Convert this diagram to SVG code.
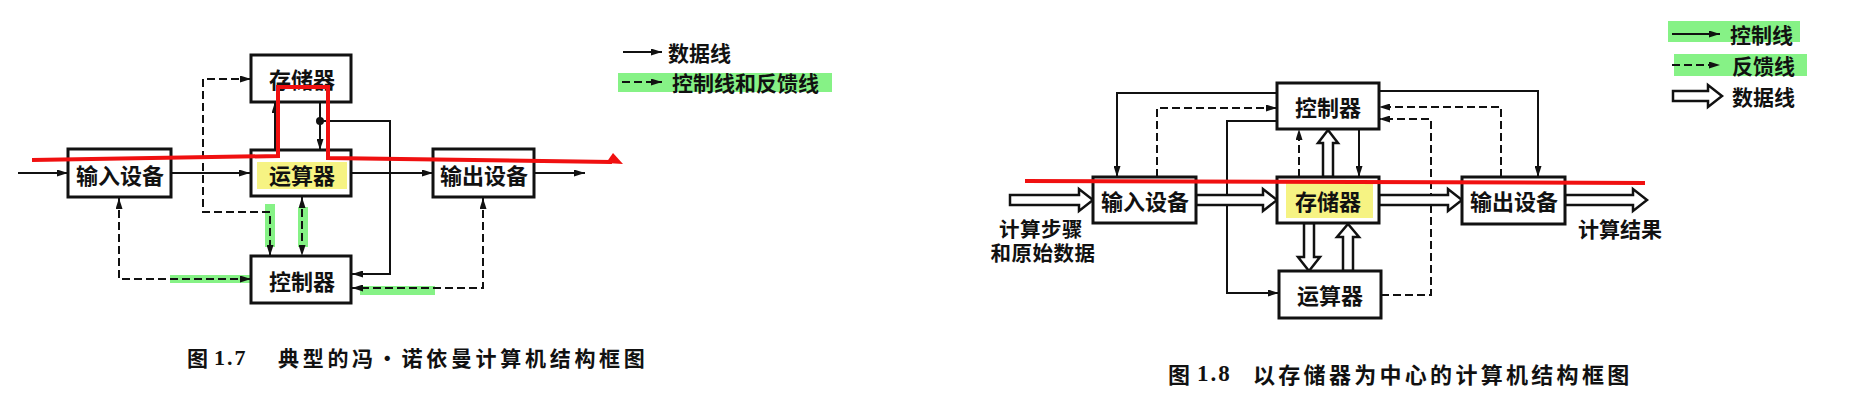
<svg xmlns="http://www.w3.org/2000/svg" width="1851" height="418" viewBox="0 0 1851 418">
<style>
.box{fill:#fff;stroke:#111;stroke-width:3}
.lbl{font-family:"Noto Sans CJK SC","Noto Sans CJK TC",sans-serif;font-weight:700;font-size:22px;fill:#111;text-anchor:middle;dominant-baseline:central}
.leg{font-family:"Noto Sans CJK SC",sans-serif;font-weight:700;font-size:21px;fill:#111;dominant-baseline:central}
.cap{font-family:"Noto Sans CJK SC",sans-serif;font-weight:700;fill:#111;dominant-baseline:central}
.num{font-family:"Liberation Serif",serif;font-weight:700;fill:#111;dominant-baseline:central}
.solid{fill:none;stroke:#111;stroke-width:2}
.dash{fill:none;stroke:#111;stroke-width:2;stroke-dasharray:8 4}
.hollow{fill:#fff;stroke:#111;stroke-width:2.5;stroke-linejoin:miter}
.hg{fill:#86f286}
.hy{fill:#f6f383}
.red{fill:none;stroke:#f01010;stroke-width:4}
</style>
<defs>
<marker id="ah" viewBox="0 0 11 7" refX="11" refY="3.5" markerWidth="11" markerHeight="7" markerUnits="userSpaceOnUse" orient="auto-start-reverse">
<path d="M0,0 L11,3.5 L0,7 z" fill="#111"/>
</marker>
</defs>
<rect width="1851" height="418" fill="#fff"/>

<!-- highlights -->
<g id="highlights">
<rect class="hg" x="618" y="73" width="214" height="19"/>
<rect class="hg" x="265" y="204" width="10" height="43"/>
<rect class="hg" x="298" y="207" width="10" height="40"/>
<rect class="hg" x="170" y="275" width="80" height="8"/>
<rect class="hg" x="360" y="286" width="75" height="9"/>
<rect class="hg" x="1668" y="21" width="132" height="21"/>
<rect class="hg" x="1674" y="54" width="133" height="22"/>
</g>

<!-- connectors -->
<g id="connectors">
<!-- left diagram -->
<path class="solid" d="M18,173 H68" marker-end="url(#ah)"/>
<path class="solid" d="M171,173 H250" marker-end="url(#ah)"/>
<path class="solid" d="M351,173 H433" marker-end="url(#ah)"/>
<path class="solid" d="M534,173 H585" marker-end="url(#ah)"/>
<path class="solid" d="M275,150 V102" marker-end="url(#ah)"/>
<path class="solid" d="M320,102 V150" marker-end="url(#ah)"/>
<circle cx="320" cy="121" r="4" fill="#111"/>
<path class="solid" d="M320,121 H390 V274 H352" marker-end="url(#ah)"/>
<path class="dash" d="M251,79 H203 V212 H270 V256" marker-start="url(#ah)" marker-end="url(#ah)"/>
<path class="dash" d="M302,197 V256" marker-start="url(#ah)" marker-end="url(#ah)"/>
<path class="dash" d="M119,198 V279 H251" marker-start="url(#ah)" marker-end="url(#ah)"/>
<path class="dash" d="M483,198 V288 H352" marker-start="url(#ah)" marker-end="url(#ah)"/>
<!-- left legend -->
<path class="solid" d="M623,52 H662" marker-end="url(#ah)"/>
<path class="dash" d="M622,82 H662" marker-end="url(#ah)"/>

<!-- right diagram -->
<path class="solid" d="M1277,93 H1117 V177" marker-end="url(#ah)"/>
<path class="dash" d="M1157,177 V108 H1277" marker-end="url(#ah)"/>
<path class="solid" d="M1277,121 H1227 V293 H1279" marker-end="url(#ah)"/>
<path class="dash" d="M1299,177 V129" marker-end="url(#ah)"/>
<path class="solid" d="M1359,129 V177" marker-end="url(#ah)"/>
<path class="solid" d="M1379,91 H1538 V177" marker-end="url(#ah)"/>
<path class="dash" d="M1501,177 V107 H1379" marker-end="url(#ah)"/>
<path class="dash" d="M1381,295 H1431 V119 H1379" marker-end="url(#ah)"/>
<polygon class="hollow" points="1010,195 1079,195 1079,189 1093,200 1079,211 1079,205 1010,205"/>
<polygon class="hollow" points="1196,195 1263,195 1263,189 1277,200 1263,211 1263,205 1196,205"/>
<polygon class="hollow" points="1379,195 1448,195 1448,189 1462,200 1448,211 1448,205 1379,205"/>
<polygon class="hollow" points="1565,195 1633,195 1633,189 1647,200 1633,211 1633,205 1565,205"/>
<polygon class="hollow" points="1323,177 1323,143 1318,143 1328,130 1338,143 1333,143 1333,177"/>
<polygon class="hollow" points="1304,223 1304,257 1298,257 1309,271 1320,257 1314,257 1314,223"/>
<polygon class="hollow" points="1343,271 1343,237 1337,237 1348,224 1359,237 1353,237 1353,271"/>
<!-- right legend -->
<path class="solid" d="M1672,34 H1720" marker-end="url(#ah)"/>
<path class="dash" d="M1672,65 H1720" marker-end="url(#ah)"/>
<polygon class="hollow" points="1673,91 1708,91 1708,85 1722,96 1708,107 1708,101 1673,101"/>
</g>

<!-- left diagram nodes -->
<g id="n1-input">
<rect class="box" x="68" y="149" width="103" height="48"/>
<text class="lbl" x="120" y="174">输入设备</text>
</g>
<g id="n1-memory">
<rect class="box" x="251" y="55" width="100" height="47"/>
<text class="lbl" x="302" y="78">存储器</text>
</g>
<g id="n1-alu">
<rect class="box" x="251" y="150" width="100" height="46"/>
<rect class="hy" x="257" y="162" width="90" height="27"/>
<text class="lbl" x="302" y="174">运算器</text>
</g>
<g id="n1-output">
<rect class="box" x="433" y="149" width="101" height="48"/>
<text class="lbl" x="484" y="174">输出设备</text>
</g>
<g id="n1-control">
<rect class="box" x="251" y="256" width="100" height="47"/>
<text class="lbl" x="302" y="280">控制器</text>
</g>

<!-- right diagram nodes -->
<g id="n2-control">
<rect class="box" x="1277" y="83" width="102" height="46"/>
<text class="lbl" x="1328" y="106">控制器</text>
</g>
<g id="n2-input">
<rect class="box" x="1093" y="177" width="103" height="46"/>
<text class="lbl" x="1145" y="200">输入设备</text>
</g>
<g id="n2-memory">
<rect class="box" x="1277" y="177" width="102" height="46"/>
<rect class="hy" x="1286" y="183" width="87" height="35"/>
<text class="lbl" x="1328" y="200">存储器</text>
</g>
<g id="n2-output">
<rect class="box" x="1462" y="177" width="103" height="47"/>
<text class="lbl" x="1514" y="200">输出设备</text>
</g>
<g id="n2-alu">
<rect class="box" x="1279" y="271" width="102" height="47"/>
<text class="lbl" x="1330" y="294">运算器</text>
</g>

<!-- red overlay lines -->
<g id="red-lines">
<path class="red" d="M32,160 L278,156 V87 H328 V158 L612,162"/>
<polygon points="606,163 613,153 623,164" fill="#f01010"/>
<path class="red" d="M1025,181 L1645,183"/>
</g>

<!-- texts -->
<g id="labels">
<text class="leg" x="668" y="52">数据线</text>
<text class="leg" x="672" y="82">控制线和反馈线</text>
<text class="leg" x="1730" y="34">控制线</text>
<text class="leg" x="1732" y="65">反馈线</text>
<text class="leg" x="1732" y="96">数据线</text>
<text class="lbl" style="font-size:20.5px;letter-spacing:0.5px"><tspan x="1041" y="228">计算步骤</tspan><tspan x="1043" y="252">和原始数据</tspan></text>
<text class="lbl" x="1620" y="228" style="font-size:21px">计算结果</text>
<text class="cap" x="187" y="357" style="font-size:21px">图</text>
<text class="num" x="214" y="357" style="font-size:22px;letter-spacing:2px">1.7</text>
<text class="cap" x="278" y="357" style="font-size:21px;letter-spacing:3.7px">典型的冯·诺依曼计算机结构框图</text>
<text class="cap" x="1168" y="373" style="font-size:22px">图</text>
<text class="num" x="1197" y="373" style="font-size:23px;letter-spacing:2px">1.8</text>
<text class="cap" x="1253" y="373" style="font-size:22px;letter-spacing:3.3px">以存储器为中心的计算机结构框图</text>
</g>
</svg>
